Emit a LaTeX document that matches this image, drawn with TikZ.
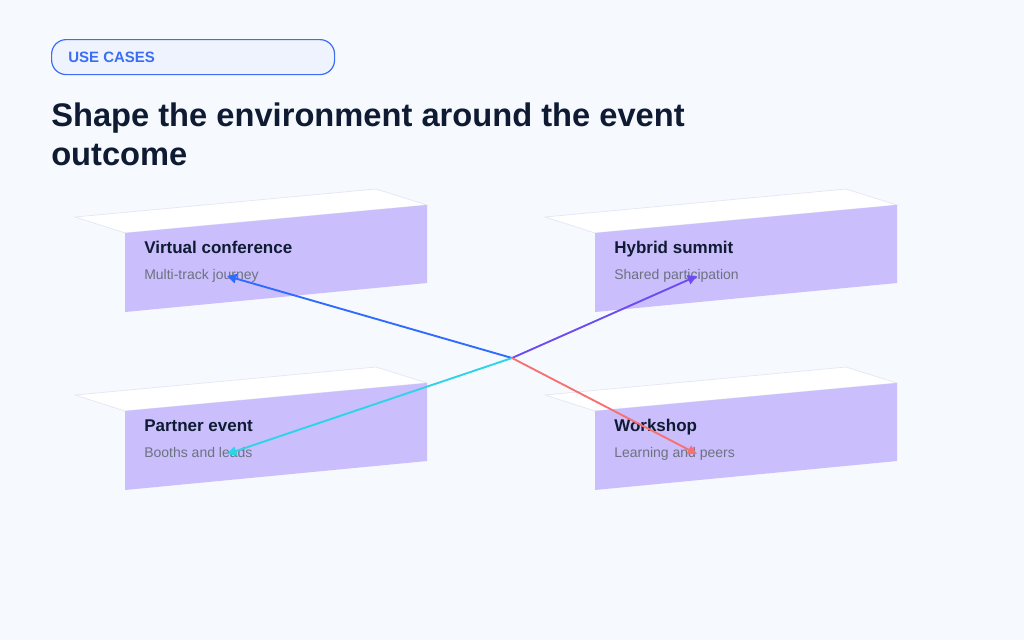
\documentclass[tikz,border=0pt]{standalone}
\usepackage{fontspec}
\setmainfont{Liberation Sans}
\usetikzlibrary{arrows.meta}
\definecolor{bg}{HTML}{F6F9FE}
\definecolor{front}{HTML}{CBBEFC}
\definecolor{edge}{HTML}{E2E6F5}
\definecolor{ink}{HTML}{0F1B33}
\definecolor{sub}{HTML}{6B7280}
\definecolor{pill}{HTML}{3B6EF5}
\definecolor{cblue}{HTML}{2F6BFF}
\definecolor{cpurp}{HTML}{6B4CF0}
\definecolor{ccyan}{HTML}{2DD4E8}
\definecolor{ccoral}{HTML}{F87171}
\tikzset{
 topf/.style={fill=white,draw=edge,line width=0.5pt},
 frontf/.style={fill=front,draw=none},
 ttl/.style={anchor=base west,inner sep=0,font=\bfseries\fontsize{12.75}{15}\selectfont,text=ink},
 stl/.style={anchor=base west,inner sep=0,font=\fontsize{10.5}{12}\selectfont,text=sub},
 conn/.style={line width=1.4pt,-{Triangle[length=7pt,width=7pt]}}
}
\begin{document}
\begin{tikzpicture}[x=0.75pt,y=-0.75pt]
\fill[bg] (0,0) rectangle (1024,640);
\useasboundingbox (0,0) rectangle (1024,640);
\node[draw=pill,line width=0.9pt,fill=pill!8,rounded corners=11pt,minimum width=283*0.75pt,minimum height=35*0.75pt,anchor=north west,inner sep=0] (pill) at (51,39) {};
\node[anchor=base west,inner sep=0,font=\bfseries\fontsize{11.25}{13}\selectfont,text=pill] (pt) at (68,62) {USE CASES};
\node[anchor=base west,inner sep=0,font=\bfseries\fontsize{24.5}{29}\selectfont,text=ink] (t1) at (51,126) {Shape the environment around the event};
\node[anchor=base west,inner sep=0,font=\bfseries\fontsize{24.5}{29}\selectfont,text=ink] (t2) at (51,165) {outcome};
\foreach \dx/\dy/\nm/\a/\b in {0/0/vc/Virtual conference/Multi-track journey,470/0/hs/Hybrid summit/Shared participation,0/178/pe/Partner event/Booths and leads,470/178/ws/Workshop/Learning and peers}{
 \begin{scope}[shift={(\dx,\dy)}]
 \draw[topf] (75,217) -- (125,233) -- (427,205) -- (376,189) -- cycle;
 \fill[frontf] (125,233) -- (427,205) -- (427,283) -- (125,312) -- cycle;
 \node[ttl] (\nm t) at (144,253) {\a};
 \node[stl] (\nm s) at (144,279) {\b};
 \coordinate (\nm) at (227,276);
 \end{scope}}
\coordinate (c) at (512,358);
\draw[conn,cblue] (c) -- (vc);
\draw[conn,cpurp] (c) -- (hs);
\draw[conn,ccyan] (c) -- (pe);
\draw[conn,ccoral] (c) -- (ws);
\end{tikzpicture}
\end{document}
